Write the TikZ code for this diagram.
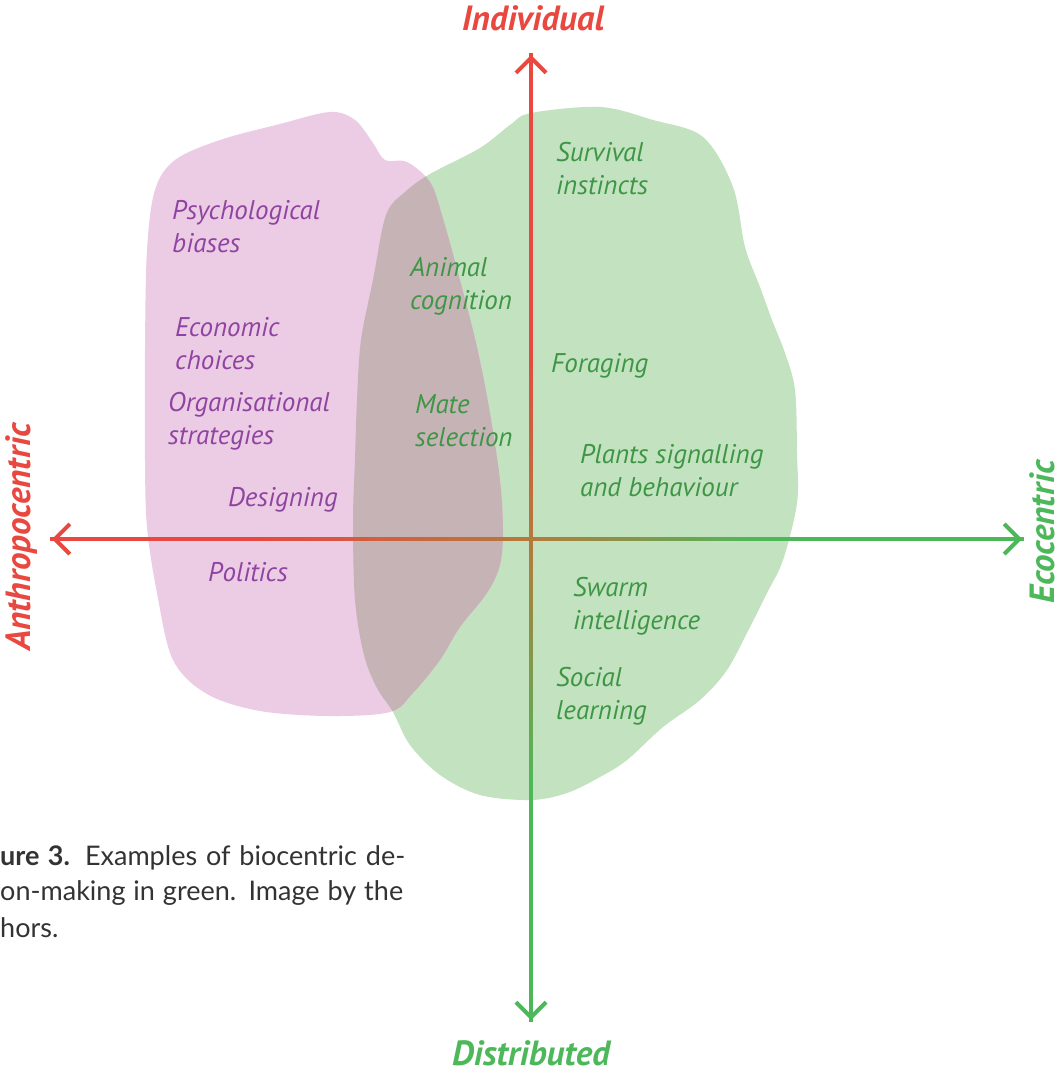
\documentclass[tikz,border=0pt]{standalone}
\usepackage{fontspec}
\usetikzlibrary{arrows.meta}
\newfontfamily\labfont{PT Sans}
\newfontfamily\capfont{Lato}
\definecolor{blobgreen}{HTML}{C2E2C0}
\definecolor{blobpink}{HTML}{ECCBE4}
\definecolor{blobmix}{HTML}{C6B3B6}
\definecolor{txtpurple}{HTML}{8E44A0}
\definecolor{txtgreen}{HTML}{3E9645}
\definecolor{axred}{HTML}{E8483F}
\definecolor{axgreen}{HTML}{4DB85A}
\definecolor{axbrown}{HTML}{B47A3C}
\definecolor{captxt}{HTML}{333333}
\tikzset{
  lbl/.style={inner sep=0pt, align=left, anchor=west, font=\labfont\itshape\fontsize{27}{33}\selectfont},
  plbl/.style={lbl, text=txtpurple},
  glbl/.style={lbl, text=txtgreen},
  axlbl/.style={inner sep=0pt, font=\labfont\bfseries\itshape\fontsize{35}{40}\selectfont},
  captext/.style={inner sep=0pt, anchor=west, text=captxt, font=\capfont\fontsize{27}{32}\selectfont},
  axseg/.style={line width=4pt, line cap=rect},
  axtip/.style={line width=4pt, -{Straight Barb[length=15pt,width=30pt]}},
}
\begin{document}
\begin{tikzpicture}[x=1pt,y=-1pt]
\useasboundingbox (0,0) rectangle (1062,1075);
\fill[white] (0,0) rectangle (1062,1075);
% blobs
\def\greenblob{plot[smooth cycle, tension=0.55] coordinates {(531,113) (600,107) (653,120) (703,137) (733,187) (745,247) (760,287) (772,320) (785,353) (795,390) (797,453) (797,503) (783,560) (767,593) (750,627) (727,670) (700,700) (663,727) (627,760) (600,777) (567,793) (531,800) (480,795) (440,775) (410,745) (393,712) (377,688) (364,655) (355,600) (353,520) (355,460) (357,400) (361,340) (373,280) (386,215) (405,192) (430,174) (480,148) (510,125)}}
\def\pinkblob{plot[smooth cycle, tension=0.55] coordinates {(330,112) (355,120) (373,143) (385,160) (407,162) (430,182) (442,215) (460,280) (477,347) (490,413) (500,480) (503,530) (500,565) (487,593) (460,627) (440,660) (413,693) (390,712) (330,716) (260,711) (207,694) (173,660) (157,593) (147,527) (145,460) (145,350) (147,250) (155,190) (175,160) (220,140) (280,124)}}
\fill[blobgreen] \greenblob;
\fill[blobpink] \pinkblob;
\begin{scope}
  \clip \pinkblob;
  \fill[blobmix] \greenblob;
\end{scope}
% axes
\coordinate (axtop) at (531,55);
\coordinate (axbot) at (531,1020);
\coordinate (axleft) at (52,539);
\coordinate (axright) at (1022,539);
% vertical line with gradient
\draw[axseg, axred] (axtop) -- (531,340);
\foreach \i in {0,...,19}{
  \pgfmathsetmacro{\pa}{340+\i*10}
  \pgfmathsetmacro{\pb}{350+\i*10}
  \pgfmathtruncatemacro{\pc}{100-\i*5}
  \draw[axseg, axred!\pc!axbrown] (531,\pa) -- (531,\pb);
}
\foreach \i in {0,...,23}{
  \pgfmathsetmacro{\pa}{540+\i*10}
  \pgfmathsetmacro{\pb}{550+\i*10}
  \pgfmathtruncatemacro{\pc}{100-\i*4}
  \draw[axseg, axbrown!\pc!axgreen] (531,\pa) -- (531,\pb);
}
\draw[axseg, axgreen] (531,780) -- (axbot);
% horizontal line with gradient
\draw[axseg, axred] (axleft) -- (250,539);
\foreach \i in {0,...,27}{
  \pgfmathsetmacro{\pa}{250+\i*10}
  \pgfmathsetmacro{\pb}{260+\i*10}
  \pgfmathtruncatemacro{\pc}{100-\i*100/28}
  \draw[axseg, axred!\pc!axbrown] (\pa,539) -- (\pb,539);
}
\foreach \i in {0,...,22}{
  \pgfmathsetmacro{\pa}{530+\i*10}
  \pgfmathsetmacro{\pb}{540+\i*10}
  \pgfmathtruncatemacro{\pc}{100-\i*100/23}
  \draw[axseg, axbrown!\pc!axgreen] (\pa,539) -- (\pb,539);
}
\draw[axseg, axgreen] (760,539) -- (axright);
\draw[axtip, axred] (531,120) -- (axtop);
\draw[axtip, axgreen] (531,960) -- (axbot);
\draw[axtip, axred] (110,539) -- (axleft);
\draw[axtip, axgreen] (960,539) -- (axright);
% axis labels
\node[axlbl, text=axred] (individual) at (533,18) {Individual};
\node[axlbl, text=axgreen] (distributed) at (531,1053) {Distributed};
\node[axlbl, text=axred, rotate=90] (anthro) at (22,537) {Anthropocentric};
\node[axlbl, text=axgreen, rotate=90] (eco) at (1042,532) {Ecocentric};
% purple labels
\node[plbl] (psych) at (172,227) {Psychological\\biases};
\node[plbl] (econ) at (175,344) {Economic\\choices};
\node[plbl] (org) at (168,421) {Organisational\\strategies};
\node[plbl] (design) at (228,500) {Designing};
\node[plbl] (politics) at (208,572) {Politics};
% green labels
\node[glbl] (animal) at (410,286) {Animal\\cognition};
\node[glbl] (mate) at (415,421) {Mate\\selection};
\node[glbl] (survival) at (556,169) {Survival\\instincts};
\node[glbl] (forage) at (551,366) {Foraging};
\node[glbl] (plants) at (580,471) {Plants signalling\\and behaviour};
\node[glbl] (swarm) at (573,606) {Swarm\\intelligence};
\node[glbl] (social) at (556,696) {Social\\learning};
% caption
\node[captext] (cap1) at (0,858) {\makebox[405pt][s]{\textbf{ure 3.} Examples of biocentric de-}};
\node[captext] (cap2) at (0,893) {\makebox[403pt][s]{on-making in green. Image by the}};
\node[captext] (cap3) at (0,928) {hors.};
\end{tikzpicture}
\end{document}
